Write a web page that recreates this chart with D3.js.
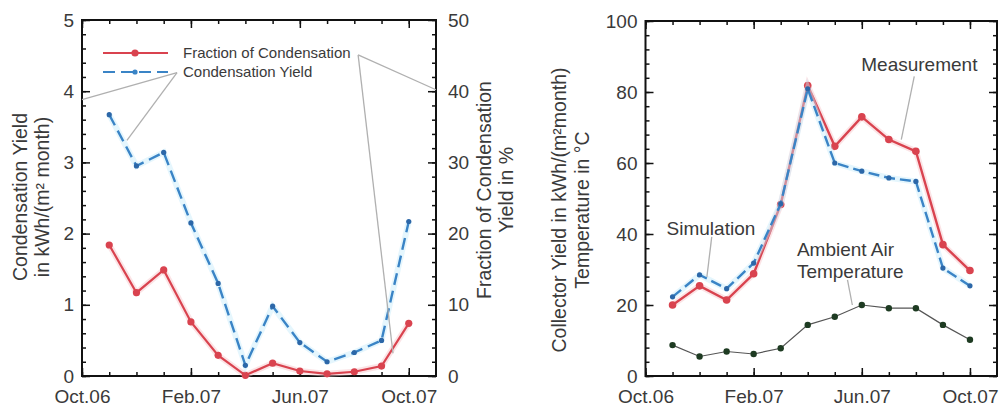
<!DOCTYPE html>
<html lang="en">
<head>
<meta charset="utf-8">
<title>condensation / collector yield</title>
<script src="https://d3js.org/d3.v7.min.js"></script>
<style>
html,body {margin:0; padding:0; background:#fff;}
svg {display:block; font-family:"Liberation Sans", Arial, sans-serif;}
</style>
</head>
<body>
<script>
// month index counted from Oct.06 (=0); points are Nov.06 .. Oct.07
const months = [1,2,3,4,5,6,7,8,9,10,11,12]
const xTickMonths = [0,4,8,12]
const xTickLabels = ['Oct.06','Feb.07','Jun.07','Oct.07']

// left plot
const condYield = [3.67,2.95,3.14,2.15,1.3,0.15,0.98,0.47,0.2,0.33,0.5,2.17]   // kWh/(m² month)
const condFraction = [18.4,11.7,14.9,7.6,2.9,0.1,1.8,0.7,0.3,0.6,1.4,7.4]     // %

// right plot
const measured = [20.0,25.4,21.4,28.8,48.3,81.8,64.7,73.0,66.6,63.3,37.0,29.7]
const simulated = [22.3,28.5,24.6,31.8,48.5,80.9,60.0,57.7,55.8,54.8,30.4,25.4]
const ambient = [8.7,5.5,6.9,6.2,7.8,14.4,16.7,20.0,19.1,19.1,14.4,10.2]

const RED = '#d9434f', BLUE = '#3a84c6', TXT = '#3a3a3a', GREY = '#b0b0b0'

let svg = d3.select('body').append('svg').attr('width', 1000).attr('height', 410)

function frame(x, y, yMax, yMajor, yMinor, opts) {
  let g = svg.append('g')
  let x0 = x.range()[0], x1 = x.range()[1]
  let y0 = y.range()[0], y1 = y.range()[1]

  let style = function(a) {
    a.select('.domain').remove()
    a.selectAll('line').attr('stroke', '#111').attr('stroke-width', 1.5)
    a.selectAll('text').attr('fill', TXT).style('font-size', '19px')
  }
  // x ticks, bottom with labels, top mirrored
  g.append('g').attr('transform', `translate(0,${y0})`)
    .call(d3.axisBottom(x).tickValues(d3.range(0,13)).tickSize(-4).tickFormat(''))
    .call(style)
  g.append('g').attr('transform', `translate(0,${y0})`)
    .call(d3.axisBottom(x).tickValues(xTickMonths).tickSize(-8).tickPadding(14)
      .tickFormat((d,i) => xTickLabels[i]))
    .call(style)
  g.append('g').attr('transform', `translate(0,${y1})`)
    .call(d3.axisTop(x).tickValues(d3.range(0,13)).tickSize(-4).tickFormat(''))
    .call(style)
  g.append('g').attr('transform', `translate(0,${y1})`)
    .call(d3.axisTop(x).tickValues(xTickMonths).tickSize(-8).tickFormat(''))
    .call(style)

  // y ticks, both sides
  let minor = d3.range(0, yMax + 1e-9, yMinor)
  let major = d3.range(0, yMax + 1e-9, yMajor)
  g.append('g').attr('transform', `translate(${x0},0)`)
    .call(d3.axisLeft(y).tickValues(minor).tickSize(-4).tickFormat(''))
    .call(style)
  g.append('g').attr('transform', `translate(${x0},0)`)
    .call(d3.axisLeft(y).tickValues(major).tickSize(-8).tickPadding(8).tickFormat(d3.format('d')))
    .call(style)
  g.append('g').attr('transform', `translate(${x1},0)`)
    .call(d3.axisRight(y).tickValues(minor).tickSize(-4).tickFormat(''))
    .call(style)
  g.append('g').attr('transform', `translate(${x1},0)`)
    .call(d3.axisRight(opts.y2 || y).tickValues(opts.y2 ? opts.y2.ticks(5) : major).tickSize(-8).tickPadding(12)
      .tickFormat(opts.y2 ? d3.format('d') : ''))
    .call(style)

  g.append('rect').attr('x', x0).attr('y', y1).attr('width', x1 - x0).attr('height', y0 - y1)
    .attr('fill', 'none').attr('stroke', '#111').attr('stroke-width', 2)
  return g
}

function vtitle(cy, lines) {
  lines.forEach(function(l) {
    svg.append('text').attr('transform', `translate(${l.x},${cy}) rotate(-90)`)
      .attr('text-anchor', 'middle').attr('dy', '0.35em')
      .attr('fill', TXT).style('font-size', '19.5px').text(l.t)
  })
}

function series(g, x, y, vals, o) {
  let line = d3.line().x((d,i) => x(months[i])).y(d => y(d))
  if (o.halo) {
    g.append('path').datum(vals).attr('d', line).attr('fill', 'none')
      .attr('stroke', o.halo).attr('stroke-width', 6).attr('stroke-opacity', 0.45)
  }
  g.append('path').datum(vals).attr('d', line).attr('fill', 'none')
    .attr('stroke', o.color).attr('stroke-width', o.width)
    .attr('stroke-dasharray', o.dash || null)
  g.selectAll(null).data(vals).enter().append('circle')
    .attr('cx', (d,i) => x(months[i])).attr('cy', d => y(d))
    .attr('r', o.r).attr('fill', o.mark)
}

function callout(x, y, from, to) {
  svg.append('line')
    .attr('x1', x(from[0])).attr('y1', y(from[1]))
    .attr('x2', x(to[0])).attr('y2', y(to[1]))
    .attr('stroke', GREY).attr('stroke-width', 1.3)
}

// ---- left: condensation
let xL = d3.scaleLinear().domain([0,13]).range([82,436])
let yL = d3.scaleLinear().domain([0,5]).range([376,20])
let yL2 = d3.scaleLinear().domain([0,50]).range([376,20])
let gL = frame(xL, yL, 5, 1, 0.2, {y2: yL2})

series(gL, xL, yL2, condFraction, {color: RED, width: 2.2, r: 3.6, mark: RED, halo: '#f6c3c8'})
series(gL, xL, yL, condYield, {color: BLUE, width: 2.4, r: 2.6, mark: '#2c67a8', dash: '12,6', halo: '#c5ecfa'})

// legend
let lg = svg.append('g')
;[{t: 'Fraction of Condensation', c: RED, y: 53, dash: null, r: 3.6},
  {t: 'Condensation Yield', c: BLUE, y: 72, dash: '12,6', r: 2.6}].forEach(function(d) {
  lg.append('line').attr('x1', 103).attr('x2', 168).attr('y1', d.y).attr('y2', d.y)
    .attr('stroke', d.c).attr('stroke-width', 2.2).attr('stroke-dasharray', d.dash)
  lg.append('circle').attr('cx', 135).attr('cy', d.y).attr('r', d.r).attr('fill', d.c)
  lg.append('text').attr('x', 183).attr('y', d.y).attr('dy', '0.35em')
    .attr('fill', TXT).style('font-size', '15px').text(d.t)
})
callout(xL, yL, [3.49,4.26], [0,3.88])
callout(xL, yL, [3.49,4.26], [1.65,3.31])
callout(xL, yL, [10.14,4.51], [13,4.02])
callout(xL, yL, [10.14,4.51], [11.42,0.32])

vtitle(197, [{x: 20, t: 'Condensation Yield'}, {x: 42, t: 'in kWh/(m² month)'}])
vtitle(190, [{x: 484, t: 'Fraction of Condensation'}, {x: 506, t: 'Yield in %'}])

// ---- right: collector yield
let xR = d3.scaleLinear().domain([0,13]).range([645.5,997])
let yR = d3.scaleLinear().domain([0,100]).range([376,21])
let gR = frame(xR, yR, 100, 20, 4, {})

series(gR, xR, yR, ambient, {color: '#555', width: 1.2, r: 3.2, mark: '#1e3b22'})
series(gR, xR, yR, measured, {color: RED, width: 2.4, r: 3.8, mark: RED, halo: '#f6c3c8'})
series(gR, xR, yR, simulated, {color: BLUE, width: 2.4, r: 2.6, mark: '#2c67a8', dash: '11,5', halo: '#c5ecfa'})

let notes = [
  {t: 'Measurement', m: 7.98, v: 87.8},
  {t: 'Simulation', m: 0.78, v: 41.5},
  {t: 'Ambient Air', m: 5.6, v: 35.6},
  {t: 'Temperature', m: 5.6, v: 29.6}
]
notes.forEach(function(d) {
  svg.append('text').attr('x', xR(d.m)).attr('y', yR(d.v)).attr('dy', '0.35em')
    .attr('fill', TXT).style('font-size', '19px').text(d.t)
})
callout(xR, yR, [9.94,84.4], [9.46,66.6])
callout(xR, yR, [2.45,39.2], [2.27,27.9])
callout(xR, yR, [7.47,27.1], [7.65,20.0])

vtitle(210, [{x: 559, t: 'Collector Yield in kWh/(m²month)'}, {x: 582, t: 'Temperature in °C'}])
</script>
</body>
</html>
